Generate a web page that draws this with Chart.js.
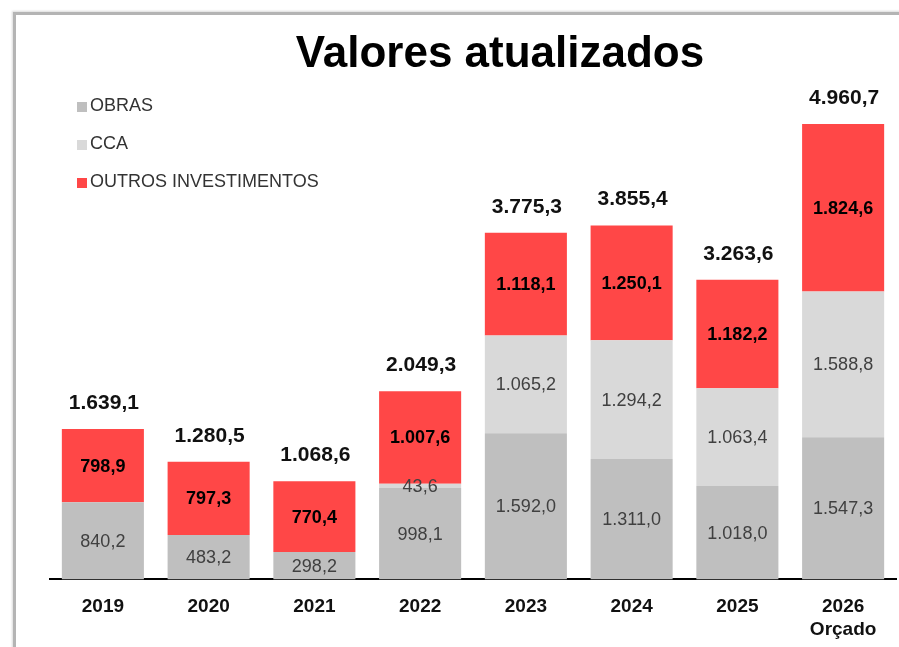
<!DOCTYPE html>
<html lang="pt">
<head>
<meta charset="utf-8">
<title>Valores atualizados</title>
<script src="https://cdn.jsdelivr.net/npm/chart.js@4.4.1/dist/chart.umd.min.js"></script>
<style>
  html, body { margin: 0; padding: 0; background: #fff; }
  #wrap { position: relative; width: 899px; height: 647px; overflow: hidden; }
  #frame {
    position: absolute; left: 13px; top: 12px; width: 900px; height: 700px;
    border-top: 3px solid #b4b4b4; border-left: 3px solid #b4b4b4;
    box-shadow: -1px -1px 2px rgba(0,0,0,0.15);
  }
  canvas { position: absolute; left: 0; top: 0; }
</style>
</head>
<body>
<div id="wrap">
  <div id="frame"></div>
  <canvas id="chart" width="899" height="647"></canvas>
</div>
<script>
(function () {
  "use strict";

  var years = [["2019"], ["2020"], ["2021"], ["2022"], ["2023"], ["2024"], ["2025"], ["2026", "Orçado"]];
  var obras = [840.2, 483.2, 298.2, 998.1, 1592.0, 1311.0, 1018.0, 1547.3];
  var cca = [0, 0, 0, 43.6, 1065.2, 1294.2, 1063.4, 1588.8];
  var outros = [798.9, 797.3, 770.4, 1007.6, 1118.1, 1250.1, 1182.2, 1824.6];
  var totals = [1639.1, 1280.5, 1068.6, 2049.3, 3775.3, 3855.4, 3263.6, 4960.7];

  var colors = ["#bfbfbf", "#d9d9d9", "#ff4747"];
  var names = ["OBRAS", "CCA", "OUTROS INVESTIMENTOS"];
  var FONT = "'Liberation Sans', Arial, sans-serif";

  // 1234.5 -> "1.234,5"
  function fmt(v) {
    var parts = v.toFixed(1).split(".");
    var intPart = parts[0].replace(/\B(?=(\d{3})+(?!\d))/g, ".");
    return intPart + "," + parts[1];
  }

  var decor = {
    id: "decor",
    afterDraw: function (chart) {
      var ctx = chart.ctx;
      ctx.save();

      // title
      ctx.fillStyle = "#000";
      ctx.font = "bold 44px " + FONT;
      ctx.textAlign = "center";
      ctx.textBaseline = "alphabetic";
      ctx.fillText("Valores atualizados", 500, 67);

      // legend
      ctx.textAlign = "left";
      ctx.textBaseline = "middle";
      ctx.font = "18px " + FONT;
      names.forEach(function (n, i) {
        var y = 106 + i * 38;
        ctx.fillStyle = colors[i];
        ctx.fillRect(77, y - 4, 10, 10);
        ctx.fillStyle = "#333";
        ctx.fillText(n, 90, y);
      });

      // segment labels
      ctx.textAlign = "center";
      chart.data.datasets.forEach(function (ds, di) {
        var meta = chart.getDatasetMeta(di);
        meta.data.forEach(function (bar, i) {
          var v = ds.data[i];
          if (!v) return;
          var mid = (bar.y + bar.base) / 2;
          if (di === 2) {
            ctx.font = "bold 18px " + FONT;
            ctx.fillStyle = "#000";
          } else {
            ctx.font = "18px " + FONT;
            ctx.fillStyle = "#404040";
          }
          ctx.fillText(fmt(v), bar.x, mid + 1);
        });
      });

      // totals
      var topMeta = chart.getDatasetMeta(2);
      ctx.font = "bold 21px " + FONT;
      ctx.fillStyle = "#111";
      ctx.textBaseline = "alphabetic";
      topMeta.data.forEach(function (bar, i) {
        ctx.fillText(fmt(totals[i]), bar.x + 1, bar.y - 20);
      });

      ctx.restore();
    }
  };

  var el = document.getElementById("chart");
  new Chart(el, {
    type: "bar",
    data: {
      labels: years,
      datasets: [
        { label: names[0], data: obras, backgroundColor: colors[0] },
        { label: names[1], data: cca, backgroundColor: colors[1] },
        { label: names[2], data: outros, backgroundColor: colors[2] }
      ]
    },
    options: {
      responsive: false,
      animation: false,
      categoryPercentage: 1,
      barPercentage: 0.776,
      layout: { padding: { left: 50, right: 3, top: 79, bottom: -10 } },
      plugins: {
        legend: { display: false },
        title: { display: false },
        tooltip: { enabled: false }
      },
      scales: {
        x: {
          stacked: true,
          grid: { display: false, drawTicks: false },
          border: { display: true, color: "#000", width: 2 },
          ticks: {
            color: "#111",
            padding: 16,
            font: { family: FONT, size: 19, weight: "bold", lineHeight: 1.2 }
          }
        },
        y: {
          stacked: true,
          display: false,
          min: 0,
          max: 5450
        }
      }
    },
    plugins: [decor]
  });
})();
</script>
</body>
</html>
